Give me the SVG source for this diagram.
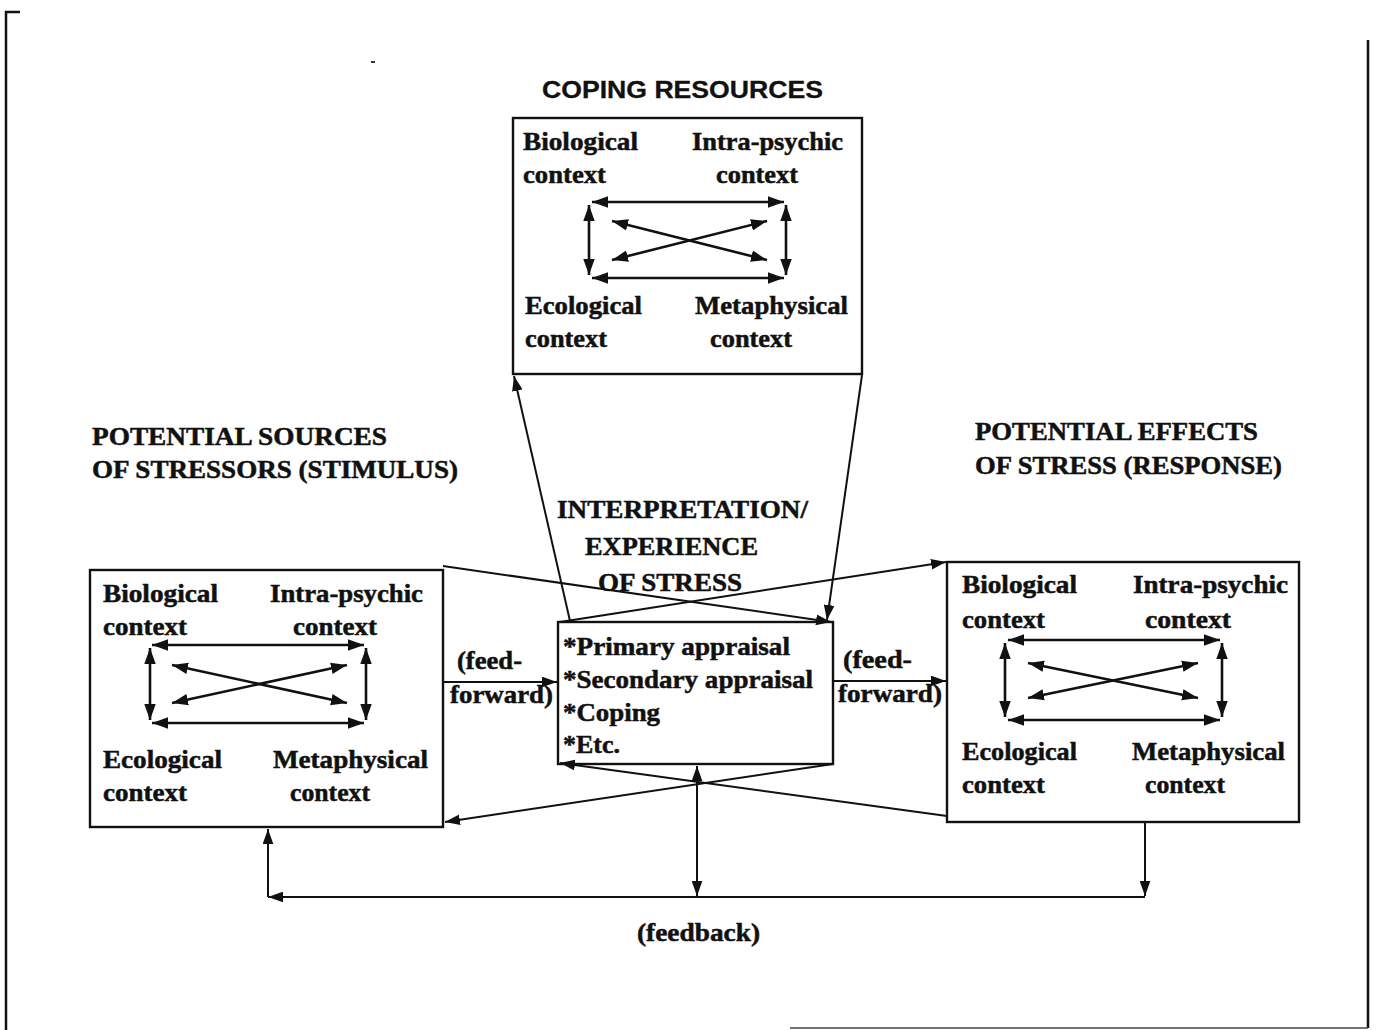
<svg xmlns="http://www.w3.org/2000/svg" width="1378" height="1030" viewBox="0 0 1378 1030">
  <style>
    .box { fill: #fff; stroke: #111; stroke-width: 2.4; }
    .t { font-family: "Liberation Serif", "Times New Roman", serif; font-weight: bold; font-size: 25px; fill: #111; stroke: #111; stroke-width: 0.5; }
    .h { font-family: "Liberation Serif", "Times New Roman", serif; font-weight: bold; font-size: 25px; fill: #111; stroke: #111; stroke-width: 0.5; }
    .s { font-family: "Liberation Sans", Arial, sans-serif; font-weight: bold; font-size: 23px; fill: #111; stroke: #111; stroke-width: 0.3; }
    .in { stroke: #111; stroke-width: 2.6; fill: none; marker-start: url(#ahb); marker-end: url(#ahb); }
    .c { stroke: #111; stroke-width: 2; fill: none; marker-end: url(#ah); }
    .frame { stroke: #111; stroke-width: 2.5; fill: none; }
  </style>
  <defs>
    <marker id="ah" viewBox="0 0 14 10" refX="14" refY="5" markerWidth="15" markerHeight="11" markerUnits="userSpaceOnUse" orient="auto-start-reverse">
      <path d="M0,0 L14,5 L0,10 z" fill="#111"/>
    </marker>
    <marker id="ahb" viewBox="0 0 14 10" refX="14" refY="5" markerWidth="16" markerHeight="12" markerUnits="userSpaceOnUse" orient="auto-start-reverse">
      <path d="M0,0 L14,5 L0,10 z" fill="#111"/>
    </marker>
  </defs>

  <rect width="1378" height="1030" fill="#fff"/>

  <!-- page frame -->
  <g id="frame">
    <path class="frame" d="M20,12 L6,12 L6,1030"/>
    <path class="frame" d="M1368,40 L1368,1028"/>
    <path d="M790,1028 L1368,1028" stroke="#444" stroke-width="1.5" fill="none"/>
    <rect x="371" y="61" width="4" height="2" fill="#333"/>
  </g>

  <!-- headings -->
  <g id="headings">
    <text class="s" x="542" y="98" textLength="281" lengthAdjust="spacingAndGlyphs">COPING RESOURCES</text>
    <text class="h" x="92" y="445" textLength="295" lengthAdjust="spacingAndGlyphs">POTENTIAL SOURCES</text>
    <text class="h" x="92" y="478" textLength="366" lengthAdjust="spacingAndGlyphs">OF STRESSORS (STIMULUS)</text>
    <text class="h" x="975" y="440" textLength="283" lengthAdjust="spacingAndGlyphs">POTENTIAL EFFECTS</text>
    <text class="h" x="975" y="474" textLength="307" lengthAdjust="spacingAndGlyphs">OF STRESS (RESPONSE)</text>
  </g>

  <!-- coping resources -->
  <g id="coping">
    <rect class="box" x="513" y="118" width="349" height="256"/>
    <text class="t" x="523" y="150" textLength="115" lengthAdjust="spacingAndGlyphs">Biological</text>
    <text class="t" x="523" y="183" textLength="83" lengthAdjust="spacingAndGlyphs">context</text>
    <text class="t" x="692" y="150" textLength="151" lengthAdjust="spacingAndGlyphs">Intra-psychic</text>
    <text class="t" x="716" y="183" textLength="82" lengthAdjust="spacingAndGlyphs">context</text>
    <text class="t" x="525" y="314" textLength="117" lengthAdjust="spacingAndGlyphs">Ecological</text>
    <text class="t" x="525" y="347" textLength="82" lengthAdjust="spacingAndGlyphs">context</text>
    <text class="t" x="695" y="314" textLength="153" lengthAdjust="spacingAndGlyphs">Metaphysical</text>
    <text class="t" x="710" y="347" textLength="82" lengthAdjust="spacingAndGlyphs">context</text>
    <line class="in" x1="592" y1="202" x2="784" y2="202"/>
    <line class="in" x1="592" y1="278" x2="784" y2="278"/>
    <line class="in" x1="589" y1="205" x2="589" y2="275"/>
    <line class="in" x1="786" y1="205" x2="786" y2="275"/>
    <line class="in" x1="612" y1="221" x2="767" y2="260"/>
    <line class="in" x1="612" y1="260" x2="767" y2="221"/>
  </g>

  <!-- potential sources of stressors -->
  <g id="sources">
    <rect class="box" x="90" y="570" width="353" height="257"/>
    <text class="t" x="103" y="602" textLength="115" lengthAdjust="spacingAndGlyphs">Biological</text>
    <text class="t" x="103" y="635" textLength="84" lengthAdjust="spacingAndGlyphs">context</text>
    <text class="t" x="270" y="602" textLength="153" lengthAdjust="spacingAndGlyphs">Intra-psychic</text>
    <text class="t" x="293" y="635" textLength="84" lengthAdjust="spacingAndGlyphs">context</text>
    <text class="t" x="103" y="768" textLength="119" lengthAdjust="spacingAndGlyphs">Ecological</text>
    <text class="t" x="103" y="801" textLength="84" lengthAdjust="spacingAndGlyphs">context</text>
    <text class="t" x="273" y="768" textLength="155" lengthAdjust="spacingAndGlyphs">Metaphysical</text>
    <text class="t" x="290" y="801" textLength="80" lengthAdjust="spacingAndGlyphs">context</text>
    <line class="in" x1="152" y1="645" x2="364" y2="645"/>
    <line class="in" x1="152" y1="723" x2="364" y2="723"/>
    <line class="in" x1="150" y1="648" x2="150" y2="720"/>
    <line class="in" x1="366" y1="648" x2="366" y2="720"/>
    <line class="in" x1="172" y1="665" x2="347" y2="703"/>
    <line class="in" x1="172" y1="703" x2="347" y2="665"/>
  </g>

  <!-- interpretation / experience of stress -->
  <g id="interpretation">
    <text class="h" x="557" y="518" textLength="251" lengthAdjust="spacingAndGlyphs">INTERPRETATION/</text>
    <text class="h" x="585" y="555" textLength="173" lengthAdjust="spacingAndGlyphs">EXPERIENCE</text>
    <text class="h" x="598" y="591" textLength="144" lengthAdjust="spacingAndGlyphs">OF STRESS</text>
    <rect class="box" x="558" y="622" width="275" height="142"/>
    <text class="t" x="563" y="655" textLength="227" lengthAdjust="spacingAndGlyphs">*Primary appraisal</text>
    <text class="t" x="563" y="688" textLength="250" lengthAdjust="spacingAndGlyphs">*Secondary appraisal</text>
    <text class="t" x="563" y="721" textLength="97" lengthAdjust="spacingAndGlyphs">*Coping</text>
    <text class="t" x="563" y="753" textLength="57" lengthAdjust="spacingAndGlyphs">*Etc.</text>
  </g>

  <!-- potential effects of stress -->
  <g id="effects">
    <rect class="box" x="947" y="562" width="352" height="260"/>
    <text class="t" x="962" y="593" textLength="115" lengthAdjust="spacingAndGlyphs">Biological</text>
    <text class="t" x="962" y="628" textLength="83" lengthAdjust="spacingAndGlyphs">context</text>
    <text class="t" x="1133" y="593" textLength="155" lengthAdjust="spacingAndGlyphs">Intra-psychic</text>
    <text class="t" x="1145" y="628" textLength="86" lengthAdjust="spacingAndGlyphs">context</text>
    <text class="t" x="962" y="760" textLength="115" lengthAdjust="spacingAndGlyphs">Ecological</text>
    <text class="t" x="962" y="793" textLength="83" lengthAdjust="spacingAndGlyphs">context</text>
    <text class="t" x="1132" y="760" textLength="153" lengthAdjust="spacingAndGlyphs">Metaphysical</text>
    <text class="t" x="1145" y="793" textLength="80" lengthAdjust="spacingAndGlyphs">context</text>
    <line class="in" x1="1008" y1="640" x2="1220" y2="640"/>
    <line class="in" x1="1008" y1="720" x2="1220" y2="720"/>
    <line class="in" x1="1005" y1="643" x2="1005" y2="717"/>
    <line class="in" x1="1222" y1="643" x2="1222" y2="717"/>
    <line class="in" x1="1028" y1="663" x2="1198" y2="698"/>
    <line class="in" x1="1028" y1="698" x2="1198" y2="663"/>
  </g>

  <!-- connectors -->
  <g id="connectors">
    <line class="c" x1="443" y1="682" x2="557" y2="682"/>
    <line class="c" x1="833" y1="681" x2="946" y2="681"/>
    <line class="c" x1="443" y1="566" x2="831" y2="622"/>
    <line class="c" x1="560" y1="622" x2="946" y2="562"/>
    <line class="c" x1="570" y1="621" x2="514" y2="376"/>
    <line class="c" x1="862" y1="375" x2="827" y2="620"/>
    <line class="c" x1="947" y1="816" x2="560" y2="763"/>
    <line class="c" x1="833" y1="764" x2="445" y2="822"/>
    <line class="c" x1="697" y1="782" x2="697" y2="766"/>
    <line class="c" x1="697" y1="782" x2="697" y2="896"/>
    <line class="c" x1="1145" y1="822" x2="1145" y2="896"/>
    <line class="c" x1="1145" y1="897" x2="268" y2="897"/>
    <line class="c" x1="268" y1="897" x2="268" y2="829"/>
    <text class="t" x="457" y="669" textLength="65" lengthAdjust="spacingAndGlyphs">(feed-</text>
    <text class="t" x="450" y="703" textLength="103" lengthAdjust="spacingAndGlyphs">forward)</text>
    <text class="t" x="843" y="668" textLength="69" lengthAdjust="spacingAndGlyphs">(feed-</text>
    <text class="t" x="838" y="702" textLength="104" lengthAdjust="spacingAndGlyphs">forward)</text>
    <text class="t" x="637" y="941" textLength="123" lengthAdjust="spacingAndGlyphs">(feedback)</text>
  </g>
</svg>
